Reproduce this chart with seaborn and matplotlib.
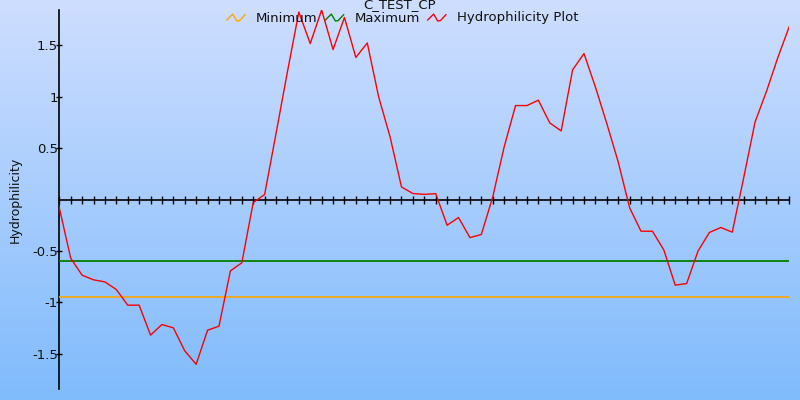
import numpy as np
import pandas as pd
import matplotlib
matplotlib.use("Agg")
import matplotlib.pyplot as plt
from matplotlib.lines import Line2D
from matplotlib.legend_handler import HandlerBase
import seaborn as sns

# ---- data ----
positions = list(range(65))
hydrophilicity = [
    -0.08, -0.57, -0.735, -0.78, -0.80, -0.874, -1.026, -1.026, -1.317, -1.214,
    -1.246, -1.47, -1.60, -1.269, -1.23, -0.693, -0.615, -0.03, 0.048, 0.64,
    1.24, 1.82, 1.514, 1.84, 1.456, 1.767, 1.379, 1.52, 0.996, 0.608,
    0.122, 0.058, 0.05, 0.057, -0.25, -0.175, -0.37, -0.34, 0.025, 0.51,
    0.912, 0.912, 0.964, 0.744, 0.666, 1.258, 1.417, 1.093, 0.738, 0.365,
    -0.08, -0.308, -0.308, -0.49, -0.832, -0.816, -0.50, -0.32, -0.272, -0.317,
    0.21, 0.753, 1.05, 1.38, 1.68,
]
minimum_value = -0.95
maximum_value = -0.6
title_text = "C_TEST_CP"
y_label = "Hydrophilicity"
legend_labels = ["Minimum", "Maximum", "Hydrophilicity Plot"]
ytick_values = [-1.5, -1, -0.5, 0.5, 1, 1.5]
ytick_labels = ["-1.5", "-1", "-0.5", "0.5", "1", "1.5"]

df = pd.DataFrame({"pos": positions, "value": hydrophilicity})

sns.set_style("white")
plt.rcParams["font.family"] = ["DejaVu Sans"]

fig = plt.figure(figsize=(8, 4), dpi=100)

# background gradient
bg = fig.add_axes([0, 0, 1, 1], zorder=-10)
top = np.array([206, 222, 255]) / 255
bot = np.array([128, 187, 252]) / 255
t = np.linspace(0, 1, 256)[:, None]
grad = (top[None, :] * (1 - t) + bot[None, :] * t)[:, None, :]
bg.imshow(grad, aspect="auto", extent=[0, 1, 0, 1], origin="upper")
bg.set_axis_off()

ax = fig.add_axes([59.3 / 800, 1 - 389 / 400, (789.3 - 59.3) / 800, (389 - 10) / 400])
ax.patch.set_alpha(0)

sns.lineplot(data=df, x="pos", y="value", ax=ax, color="#ff0000", lw=1.0, zorder=5)
ax.axhline(maximum_value, color="#008000", lw=1.3, zorder=3)
ax.axhline(minimum_value, color="#ffa500", lw=1.2, zorder=3)

ax.set_xlim(positions[0], positions[-1])
ax.set_ylim(-1.84, 1.84)

for s in ["top", "right"]:
    ax.spines[s].set_visible(False)
ax.spines["bottom"].set_position(("data", 0))
ax.spines["bottom"].set_linewidth(1.2)
ax.spines["bottom"].set_color("black")
ax.spines["bottom"].set_zorder(2)
ax.spines["left"].set_linewidth(1.2)
ax.spines["left"].set_color("black")

ax.set_xticks(positions)
ax.tick_params(axis="x", bottom=True, direction="inout", length=5.5, width=1.0,
               color="black", labelbottom=False)
ax.set_yticks(ytick_values)
ax.set_yticklabels(ytick_labels)
ax.tick_params(axis="y", left=True, direction="inout", length=5, width=1.0,
               color="black", labelsize=9.5, pad=-1.5, labelcolor="#111111")
ax.set_xlabel("")
ax.set_ylabel(y_label, fontsize=9, color="#111111")
ax.yaxis.set_label_coords(-0.051, 0.5)


class ZigZagHandler(HandlerBase):
    def __init__(self, color):
        super().__init__()
        self.color = color

    def create_artists(self, legend, orig_handle, xdescent, ydescent, width,
                       height, fontsize, trans):
        xs = np.array([0.0, 0.15, 0.33, 0.55, 0.7, 1.0]) * width - xdescent
        ys = (np.array([0.15, 0.45, 0.8, 0.05, 0.1, 0.75]) * height - ydescent)
        ln = Line2D(xs, ys, color=self.color, lw=1.0, transform=trans)
        return [ln]


handles = [Line2D([], [], color="#ffa500"), Line2D([], [], color="#008000"),
           Line2D([], [], color="#ff0000")]
handler_map = {handles[0]: ZigZagHandler("#ffa500"),
               handles[1]: ZigZagHandler("#008000"),
               handles[2]: ZigZagHandler("#ff0000")}
fig.legend(handles, legend_labels, handler_map=handler_map, loc="center",
           bbox_to_anchor=(0.503, 1 - 18 / 400), ncol=3, frameon=False,
           fontsize=9.5, handlelength=1.4, handletextpad=0.8, columnspacing=0.6,
           labelcolor="#111111")
fig.text(0.5, 1 - 5 / 400, title_text, ha="center", va="center", fontsize=9.5,
         color="#111111")

fig.savefig("out.png", dpi=100)
